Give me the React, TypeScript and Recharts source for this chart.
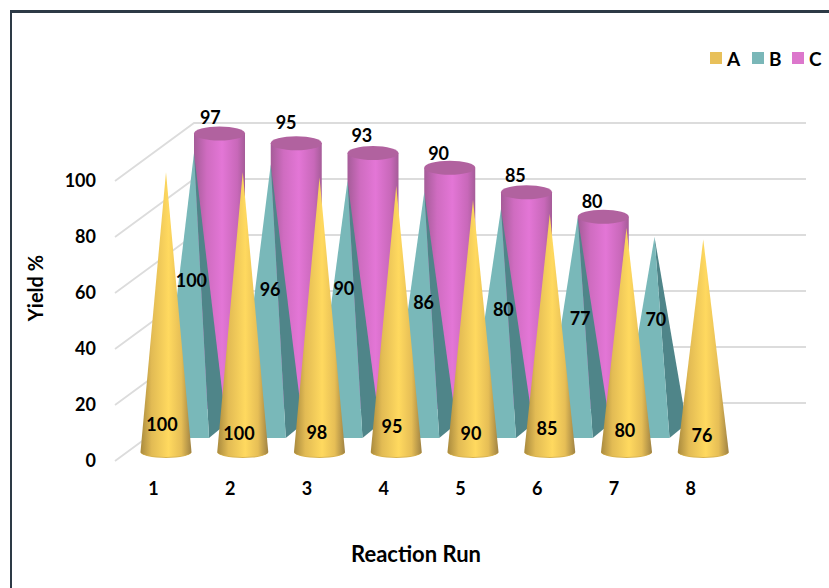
import { Bar, CartesianGrid, ComposedChart, Line, XAxis, YAxis } from "recharts";

const runs = ["1", "2", "3", "4", "5", "6", "7", "8"];
const aValues = [100, 100, 98, 95, 90, 85, 80, 76];
const bValues = [100, 96, 90, 86, 80, 77, 70];
const cValues = [97, 95, 93, 90, 85, 80];
const yTicks = [0, 20, 40, 60, 80, 100];
const seriesNames = ["A", "B", "C"];
const seriesColors = ["#e8c05a", "#7ab7b8", "#dc77cc"];

// where each value text sits, by run
const aLabelY = [424, 433, 432, 426, 433, 428, 430, 435];
const aLabelDx = [8.6, 8.9, 10, 8.4, 10.6, 9.9, 11, 11.4];
const bLabelY = [280, 289, 288, 302, 309, 318, 319];
const bLabelDx = [38, 40, 37, 40, 43, 43, 42];
const cLabelY = [117, 122, 135, 153, 175, 201];
const cLabelDx = [57, 56, 55, 55, 55, 55];

const data = runs.map((run, i) => ({
  run,
  a: aValues[i],
  b: bValues[i] ?? null,
  c: cValues[i] ?? null,
}));

const FONT = "Lato, 'Open Sans', sans-serif";
const GRID = "#dcdcdc";

// fake 3D: the walls and rows are pushed back from the front plane
const DEPTH_X = 79;
const DEPTH_Y = 58;

const Cone = ({ x, y, width, height, value }: any) => {
  if (value == null) return null;
  const cx = x + width / 2 + 12.5;
  const base = y + height - 9;
  const tip = y - 9;
  const r = 25.5;
  return (
    <g>
      <path d={`M${cx - r},${base} A${r},6 0 0 0 ${cx + r},${base} Z`} fill="#d9b450" />
      <path d={`M${cx - r},${base} A${r},5 0 0 0 ${cx + r},${base} L${cx},${tip} Z`} fill="url(#coneFill)" />
    </g>
  );
};

const Pyramid = ({ x, y, width, height, value }: any) => {
  if (value == null) return null;
  const cx = x + width / 2 + 31;
  const floor = y + height - 23;
  const apexX = cx + 9.5;
  const apexY = y - 28;
  const r = 24.5;
  return (
    <g>
      <path d={`M${cx + r},${floor} L${cx + r + 17},${floor - 14} L${apexX},${apexY} Z`} fill="#4f8589" />
      <path d={`M${cx - r},${floor} L${cx + r},${floor} L${apexX},${apexY} Z`} fill="#79b8b9" />
    </g>
  );
};

const Cylinder = ({ x, y, width, height, value }: any) => {
  if (value == null) return null;
  const cx = x + width / 2 + 66;
  const top = y - DEPTH_Y;
  const bottom = y + height - DEPTH_Y;
  const r = 25.5;
  return (
    <g>
      <path
        d={`M${cx - r},${top} L${cx - r},${bottom} A${r},7 0 0 0 ${cx + r},${bottom} L${cx + r},${top} Z`}
        fill="url(#cylinderFill)"
      />
      <ellipse cx={cx} cy={top} rx={r} ry={7} fill="#b1629f" />
    </g>
  );
};

// value text goes on invisible lines so it paints over every shape
const valueLabel = (dxs: number[], ys: number[]) => (p: any) => {
  if (p.value == null) return null;
  return (
    <text
      key={p.index}
      x={p.x + dxs[p.index]}
      y={ys[p.index]}
      textAnchor="middle"
      dominantBaseline="central"
      fontFamily={FONT}
      fontWeight={700}
      fontSize={18}
      fill="#000"
    >
      {p.value}
    </text>
  );
};

// grid line runs up the side wall, then along the back wall
const wallLine = (p: any) => (
  <path
    key={p.key ?? p.y1}
    d={`M${p.x1},${p.y1} L${p.x1 + DEPTH_X},${p.y1 - DEPTH_Y} L${p.x2 + DEPTH_X - 2},${p.y1 - DEPTH_Y}`}
    fill="none"
    stroke={GRID}
    strokeWidth={1.8}
  />
);

const legendLeft = [710, 752, 792];

export default function App() {
  const tick = { fontFamily: FONT, fontWeight: 700, fontSize: 18, fill: "#000" };
  return (
    <div style={{ position: "absolute", left: 0, top: 0, width: 829, height: 588, overflow: "hidden", background: "#fff" }}>
      <div
        style={{
          position: "absolute",
          left: 10,
          top: 10,
          width: 830,
          height: 600,
          borderLeft: "2.5px solid #2d3a46",
          borderTop: "3px solid #2d3a46",
        }}
      />
      <div style={{ position: "absolute", left: 0, top: 0 }}>
        <ComposedChart
          width={829}
          height={588}
          data={data}
          margin={{ top: 181, right: 100, bottom: 97, left: 35 }}
          barCategoryGap={0}
          barGap={0}
        >
          <defs>
            <linearGradient id="coneFill" x1="0" y1="0" x2="1" y2="0">
              <stop offset="0" stopColor="#a98a3e" />
              <stop offset="0.22" stopColor="#e2bb54" />
              <stop offset="0.55" stopColor="#ffd95f" />
              <stop offset="0.8" stopColor="#e6be56" />
              <stop offset="1" stopColor="#9f8243" />
            </linearGradient>
            <linearGradient id="cylinderFill" x1="0" y1="0" x2="1" y2="0">
              <stop offset="0" stopColor="#a55c98" />
              <stop offset="0.25" stopColor="#cf6cc0" />
              <stop offset="0.55" stopColor="#e376d6" />
              <stop offset="0.85" stopColor="#c868b9" />
              <stop offset="1" stopColor="#a55c98" />
            </linearGradient>
          </defs>
          <CartesianGrid vertical={false} horizontal={wallLine} />
          <XAxis
            dataKey="run"
            axisLine={false}
            tickLine={false}
            tick={tick}
            tickMargin={15}
            height={30}
            label={{
              value: "Reaction Run",
              position: "bottom",
              offset: 55,
              dx: -6,
              style: { fontFamily: FONT, fontWeight: 700, fontSize: 22, fill: "#000" },
            }}
          />
          <XAxis xAxisId="a" dataKey="run" hide />
          <XAxis xAxisId="b" dataKey="run" hide />
          <XAxis xAxisId="c" dataKey="run" hide />
          <YAxis
            domain={[0, 100]}
            ticks={yTicks}
            width={80}
            axisLine={false}
            tickLine={false}
            tick={tick}
            tickMargin={13}
            label={{
              value: "Yield %",
              angle: -90,
              position: "insideLeft",
              dx: -4,
              dy: -33,
              style: { fontFamily: FONT, fontWeight: 700, fontSize: 20, fill: "#000", textAnchor: "middle" },
            }}
          />
          {/* the back row stands on its own, steeper axis */}
          <YAxis yAxisId="c" hide domain={[42, 99.14]} />

          <Bar xAxisId="c" yAxisId="c" dataKey="c" shape={Cylinder} isAnimationActive={false} />
          <Bar xAxisId="b" dataKey="b" shape={Pyramid} isAnimationActive={false} />
          <Bar xAxisId="a" dataKey="a" shape={Cone} isAnimationActive={false} />

          <Line dataKey="c" stroke="none" dot={false} activeDot={false} label={valueLabel(cLabelDx, cLabelY)} isAnimationActive={false} />
          <Line dataKey="b" stroke="none" dot={false} activeDot={false} label={valueLabel(bLabelDx, bLabelY)} isAnimationActive={false} />
          <Line dataKey="a" stroke="none" dot={false} activeDot={false} label={valueLabel(aLabelDx, aLabelY)} isAnimationActive={false} />
        </ComposedChart>
      </div>
      {seriesNames.map((name, i) => (
        <div key={name} style={{ position: "absolute", left: legendLeft[i], top: 52, display: "flex", alignItems: "center", height: 12 }}>
          <span style={{ width: 12, height: 12, background: seriesColors[i], marginRight: 5 }} />
          <span style={{ fontFamily: FONT, fontWeight: 700, fontSize: 19, color: "#000" }}>{name}</span>
        </div>
      ))}
    </div>
  );
}
